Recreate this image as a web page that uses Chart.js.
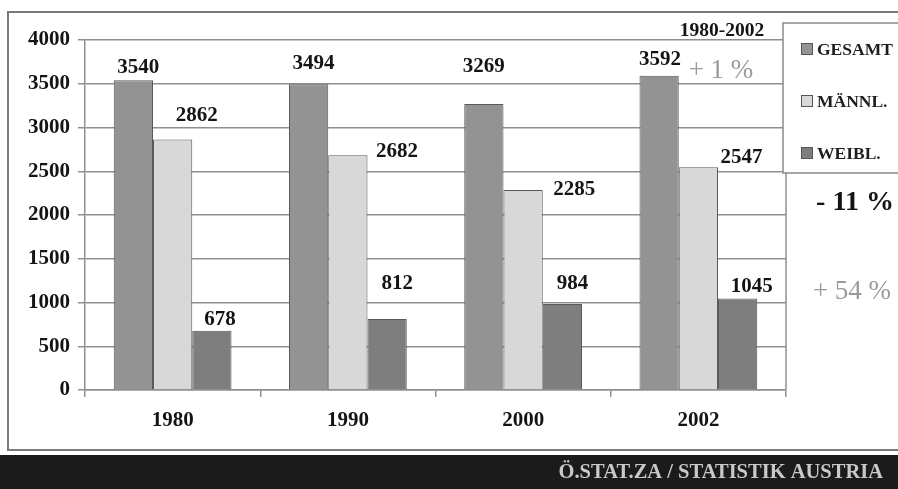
<!DOCTYPE html>
<html>
<head>
<meta charset="utf-8">
<script src="https://cdn.jsdelivr.net/npm/chart.js@4.4.0/dist/chart.umd.min.js"></script>
<style>
html, body { margin: 0; padding: 0; background: #fff; }
#wrap { position: relative; width: 898px; height: 489px; }
</style>
</head>
<body>
<div id="wrap"><canvas id="chart"></canvas></div>
<script>
// values
const years = ['1980', '1990', '2000', '2002'];
const seriesNames = ['GESAMT', 'MÄNNL.', 'WEIBL.'];
const gesamt = [3540, 3494, 3269, 3592];
const maennl = [2862, 2682, 2285, 2547];
const weibl = [678, 812, 984, 1045];
const yTicks = [0, 500, 1000, 1500, 2000, 2500, 3000, 3500, 4000];
const changeTitle = '1980-2002';
const changes = ['+ 1 %', '- 11 %', '+ 54 %'];
const source = 'Ö.STAT.ZA / STATISTIK AUSTRIA';

const serif = "'Liberation Serif', 'Times New Roman', serif";
const barColors = ['#939393', '#d8d8d8', '#7e7e7e'];
const gridGrey = '#8f8f8f';

// where each value label sits, relative to the top middle of its bar (px)
const labelShift = [
    [[5, -13], [5, -21], [0, -37], [1, -16]],
    [[24, -24], [49, -4], [51, 0], [43, -10]],
    [[8, -11], [10, -35], [10, -20], [14, -12]]
];

const framePlugin = {
    id: 'frame',
    beforeDraw(chart) {
        const ctx = chart.ctx;
        ctx.save();
        ctx.fillStyle = '#fff';
        ctx.fillRect(0, 0, chart.width, chart.height);
        // outer frame
        ctx.strokeStyle = '#7a7a7a';
        ctx.lineWidth = 2;
        ctx.strokeRect(8, 12, 900, 438);
        // footer band
        ctx.fillStyle = '#1b1b1b';
        ctx.fillRect(0, 455, chart.width, chart.height - 455);
        ctx.fillStyle = '#c9c9c9';
        ctx.font = 'bold 20.5px ' + serif;
        ctx.textAlign = 'right';
        ctx.textBaseline = 'middle';
        ctx.fillText(source, 883, 473);
        ctx.restore();
    },
    afterDraw(chart) {
        const ctx = chart.ctx;
        const area = chart.chartArea;
        ctx.save();
        // right edge of the plot
        ctx.strokeStyle = gridGrey;
        ctx.lineWidth = 1.5;
        ctx.beginPath();
        ctx.moveTo(area.right, area.top);
        ctx.lineTo(area.right, area.bottom);
        ctx.stroke();

        // value labels
        ctx.fillStyle = '#141414';
        ctx.font = 'bold 21px ' + serif;
        ctx.textAlign = 'center';
        ctx.textBaseline = 'middle';
        chart.data.datasets.forEach((ds, di) => {
            chart.getDatasetMeta(di).data.forEach((bar, i) => {
                const s = labelShift[di][i];
                ctx.fillText(String(ds.data[i]), bar.x + s[0], bar.y + s[1]);
            });
        });

        // legend box
        const lx = 783, ly = 23;
        ctx.fillStyle = '#fff';
        ctx.fillRect(lx, ly, 130, 150);
        ctx.strokeStyle = '#8a8a8a';
        ctx.lineWidth = 1.5;
        ctx.strokeRect(lx, ly, 130, 150);
        ctx.font = 'bold 17.5px ' + serif;
        ctx.textAlign = 'left';
        chart.data.datasets.forEach((ds, di) => {
            const cy = 49 + di * 52;
            ctx.fillStyle = ds.backgroundColor;
            ctx.fillRect(801, cy - 6, 12, 12);
            ctx.strokeStyle = '#555';
            ctx.lineWidth = 1;
            ctx.strokeRect(801.5, cy - 5.5, 11, 11);
            ctx.fillStyle = '#1e1e1e';
            ctx.fillText(ds.label, 817, cy + 1);
        });

        // change annotations
        ctx.textAlign = 'center';
        ctx.fillStyle = '#141414';
        ctx.font = 'bold 19.5px ' + serif;
        ctx.fillText(changeTitle, 722, 31);
        ctx.fillStyle = '#9a9a9a';
        ctx.font = '27px ' + serif;
        ctx.fillText(changes[0], 721, 71);
        ctx.fillStyle = '#141414';
        ctx.font = 'bold 28px ' + serif;
        ctx.fillText(changes[1], 855, 203);
        ctx.fillStyle = '#9a9a9a';
        ctx.font = '27px ' + serif;
        ctx.fillText(changes[2], 852, 292);
        ctx.restore();
    }
};

const tickFont = { family: serif, size: 21, weight: 'bold' };

new Chart(document.getElementById('chart'), {
    type: 'bar',
    data: {
        labels: years,
        datasets: [
            { label: seriesNames[0], data: gesamt, backgroundColor: barColors[0] },
            { label: seriesNames[1], data: maennl, backgroundColor: barColors[1] },
            { label: seriesNames[2], data: weibl, backgroundColor: barColors[2] }
        ]
    },
    options: {
        responsive: true,
        maintainAspectRatio: false,
        animation: false,
        datasets: {
            bar: {
                barPercentage: 1,
                categoryPercentage: 0.672,
                borderColor: '#5a5a5a',
                borderWidth: 1
            }
        },
        layout: { padding: { left: 0, top: 40, right: 112, bottom: 59 } },
        plugins: {
            legend: { display: false },
            tooltip: { enabled: false }
        },
        scales: {
            x: {
                grid: { display: true, drawOnChartArea: false, offset: true, tickLength: 7, color: gridGrey, lineWidth: 1.5 },
                border: { color: gridGrey, width: 1.5 },
                ticks: { font: tickFont, color: '#141414', padding: 11 },
                afterFit: s => { s.height = 40; }
            },
            y: {
                min: 0,
                max: 4000,
                afterBuildTicks: s => { s.ticks = yTicks.map(v => ({ value: v })); },
                grid: { color: gridGrey, lineWidth: 1.5, tickLength: 7 },
                border: { color: gridGrey, width: 1.5 },
                ticks: { font: tickFont, color: '#141414', padding: 8, callback: v => String(v) },
                afterFit: s => { s.width = 85; }
            }
        }
    },
    plugins: [framePlugin]
});
</script>
</body>
</html>
